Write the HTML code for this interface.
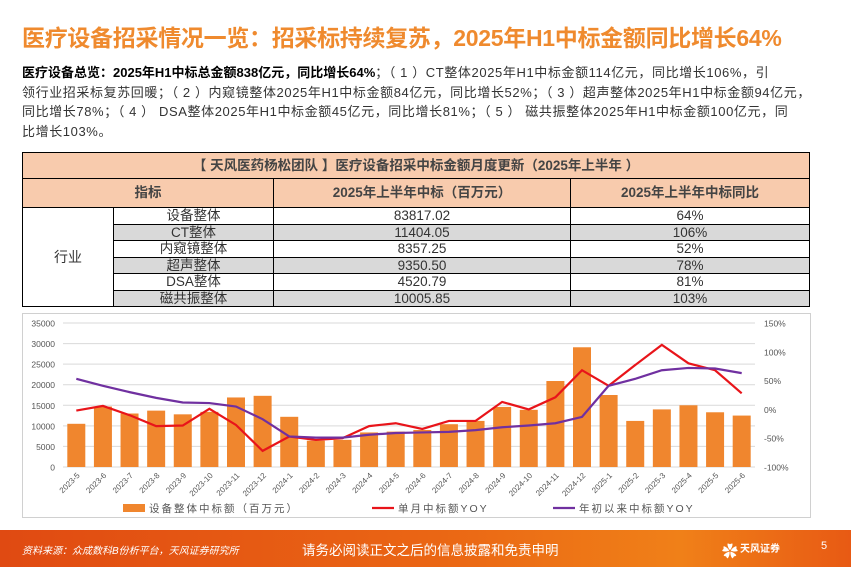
<!DOCTYPE html>
<html><head><meta charset="utf-8">
<style>
*{margin:0;padding:0;box-sizing:border-box}
body{width:851px;height:567px;position:relative;background:#fff;overflow:hidden;font-family:"Liberation Sans","Noto Sans CJK SC",sans-serif}
.title{position:absolute;left:22px;top:19px;font-size:23px;font-weight:bold;color:#ef8a2e;white-space:nowrap;letter-spacing:-0.3px}
.para{position:absolute;left:22px;top:63px;font-size:13px;line-height:19.5px;color:#333;white-space:nowrap;letter-spacing:0.6px}
.para b{color:#000;letter-spacing:0}
table{position:absolute;left:22px;top:152px;width:788px;border-collapse:collapse;font-size:13.5px;color:#333}
td{border:1px solid #000;text-align:center;padding:0;line-height:1}
.th td{background:#f8cbad;font-weight:bold;color:#444}
.g td.v{background:#d9d9d9}
.footer{position:absolute;left:0;top:530px;width:851px;height:37px;background:linear-gradient(90deg,#e04a12,#ea6514 50%,#f08018 80%,#e85a14)}
</style></head><body>
<div class="title">医疗设备招采情况一览：招采标持续复苏，2025年H1中标金额同比增长64%</div>
<div class="para"><b>医疗设备总览：2025年H1中标总金额838亿元，同比增长64%</b>；（ 1 ）CT整体2025年H1中标金额114亿元，同比增长106%，引<br>领行业招采标复苏回暖；（ 2 ）内窥镜整体2025年H1中标金额84亿元，同比增长52%；（ 3 ）超声整体2025年H1中标金额94亿元，<br>同比增长78%；（ 4 ） DSA整体2025年H1中标金额45亿元，同比增长81%；（ 5 ） 磁共振整体2025年H1中标金额100亿元，同<br>比增长103%。</div>
<table>
<tr class="th" style="height:26px"><td colspan="4">【 天风医药杨松团队 】医疗设备招采中标金额月度更新（2025年上半年 ）</td></tr>
<tr class="th" style="height:29px"><td colspan="2" style="width:251px">指标</td><td style="width:297px">2025年上半年中标（百万元）</td><td>2025年上半年中标同比</td></tr>
<tr style="height:16.5px"><td rowspan="6" style="width:91px;font-size:14px">行业</td><td class="v" style="width:160px">设备整体</td><td class="v">83817.02</td><td class="v">64%</td></tr>
<tr class="g" style="height:16.5px"><td class="v">CT整体</td><td class="v">11404.05</td><td class="v">106%</td></tr>
<tr style="height:16.5px"><td class="v">内窥镜整体</td><td class="v">8357.25</td><td class="v">52%</td></tr>
<tr class="g" style="height:16.5px"><td class="v">超声整体</td><td class="v">9350.50</td><td class="v">78%</td></tr>
<tr style="height:16.5px"><td class="v">DSA整体</td><td class="v">4520.79</td><td class="v">81%</td></tr>
<tr class="g" style="height:16.5px"><td class="v">磁共振整体</td><td class="v">10005.85</td><td class="v">103%</td></tr>
</table>
<svg id="chart" style="position:absolute;left:0;top:0" width="851" height="530"></svg>
<div class="footer">
<div style="position:absolute;left:22px;top:12px;font-size:10px;font-style:italic;color:#fff">资料来源：众成数科B份析平台，天风证券研究所</div>
<div style="position:absolute;left:302px;top:9px;font-size:13.5px;color:#fff">请务必阅读正文之后的信息披露和免责申明</div>
<div style="position:absolute;left:722px;top:8px;width:14px;height:18px;color:#fff;font-size:16px">✿</div>
<div style="position:absolute;left:740px;top:10px;font-size:10px;font-weight:bold;color:#fff">天风证券</div>
<div style="position:absolute;left:821px;top:10px;font-size:11px;color:#fff">5</div>
</div>
<script>
const categories=["2023-5","2023-6","2023-7","2023-8","2023-9","2023-10","2023-11","2023-12","2024-1","2024-2","2024-3","2024-4","2024-5","2024-6","2024-7","2024-8","2024-9","2024-10","2024-11","2024-12","2025-1","2025-2","2025-3","2025-4","2025-5","2025-6"];
const barValues=[10500,14700,13000,13700,12800,13400,16900,17300,12200,6400,6600,8400,8600,9000,10400,11200,14600,13900,20900,29100,17500,11200,14000,15000,13300,12500];
const monthlyYoy=[-2,6,-10,-29,-28,1,-27,-72,-47,-53,-50,-29,-24,-34,-20,-20,13,0,21,68,41,77,112,80,68,28];
const ytdYoy=[53,41,30,20,12,11,5,-17,-47,-49,-49,-44,-41,-40,-39,-36,-31,-28,-24,-13,41,53,68,72,71,63];
const leftTicks=[0,5000,10000,15000,20000,25000,30000,35000];
const rightTicks=[-100,-50,0,50,100,150];
const NS="http://www.w3.org/2000/svg";
const svg=document.getElementById('chart');
const x0=63,x1=755,yTop=323,yBot=467;
const band=(x1-x0)/categories.length;
const xPos=i=>x0+band*(i+0.5);
const yL=v=>yBot-(v/35000)*(yBot-yTop);
const yR=v=>yBot-((v+100)/250)*(yBot-yTop);
function mk(t,a){const e=document.createElementNS(NS,t);for(const k in a)e.setAttribute(k,a[k]);svg.appendChild(e);return e;}
const frame=mk('rect',{x:22.5,y:313.5,width:788,height:204,fill:'none',stroke:'#d0d0d0'});


leftTicks.forEach(v=>{
 const l=mk('line',{x1:x0,x2:x1,y1:yL(v),y2:yL(v),stroke:'#d9d9d9','stroke-width':1});
 
 
 const t=mk('text',{x:55,y:yL(v)+3.5,'text-anchor':'end','font-size':8.5,fill:'#555'});t.textContent=v;
 
 
});
rightTicks.forEach(v=>{
 const t=mk('text',{x:764,y:yR(v)+3.5,'font-size':8.5,fill:'#555'});t.textContent=v+'%';
 
 
});
barValues.forEach((v,i)=>{
 const r=mk('rect',{x:xPos(i)-9,y:yL(v),width:18,height:yBot-yL(v),fill:'#f0862e'});
 
 
});
categories.forEach((c,i)=>{
 const t=mk('text',{x:xPos(i)+4,y:476,'text-anchor':'end','font-size':8,fill:'#555',transform:`rotate(-45 ${xPos(i)+4} 476)`});t.textContent=c;
 
 
});
const l1=mk('polyline',{points:monthlyYoy.map((v,i)=>xPos(i)+','+yR(v)).join(' '),fill:'none',stroke:'#e8141a','stroke-width':2.2});


const l2=mk('polyline',{points:ytdYoy.map((v,i)=>xPos(i)+','+yR(v)).join(' '),fill:'none',stroke:'#7030a0','stroke-width':2.2});


const lg=[{x:123,k:'rect',c:'#f0862e',t:'设备整体中标额（百万元）'},{x:372,k:'line',c:'#e8141a',t:'单月中标额YOY'},{x:553,k:'line',c:'#7030a0',t:'年初以来中标额YOY'}];
lg.forEach(o=>{
 let m;
 if(o.k==='rect')m=mk('rect',{x:o.x,y:504,width:22,height:8,fill:o.c});
 else m=mk('line',{x1:o.x,x2:o.x+22,y1:508,y2:508,stroke:o.c,'stroke-width':2.2});
 
 
 const t=mk('text',{x:o.x+26,y:512,'font-size':10.5,fill:'#555','letter-spacing':'2'});t.textContent=o.t;
 
 
});
</script>
</body></html>
